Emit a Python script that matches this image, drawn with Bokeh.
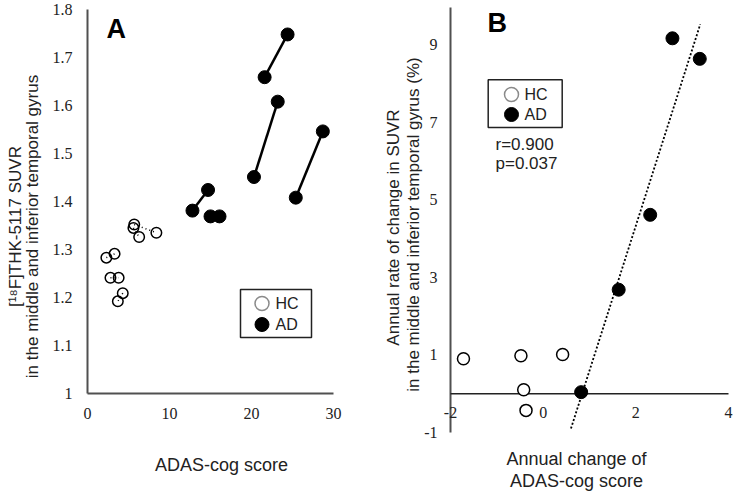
import numpy as np
from bokeh.plotting import figure
from bokeh.layouts import row
from bokeh.models import ColumnDataSource, Label, LabelSet, Range1d
from bokeh.embed import file_html
from bokeh.resources import INLINE

FONT = "Liberation Sans"
TXT = "#222222"
AX = "#505050"

# ---------------- Panel A data ----------------
hc_base_x = [2.3, 2.8, 4.3, 5.7, 5.6]
hc_base_y = [1.283, 1.241, 1.209, 1.352, 1.345]
hc_follow_x = [3.3, 3.8, 3.7, 8.4, 6.3]
hc_follow_y = [1.291, 1.241, 1.192, 1.335, 1.326]
ad_base_x = [21.6, 20.3, 25.4, 12.8, 15.0]
ad_base_y = [1.659, 1.451, 1.408, 1.381, 1.369]
ad_follow_x = [24.4, 23.2, 28.7, 14.7, 16.1]
ad_follow_y = [1.748, 1.608, 1.546, 1.424, 1.369]
a_xticks = [0, 10, 20, 30]
a_xtick_labels = ["0", "10", "20", "30"]
a_yticks = [1.0, 1.1, 1.2, 1.3, 1.4, 1.5, 1.6, 1.7, 1.8]
a_ytick_labels = ["1", "1.1", "1.2", "1.3", "1.4", "1.5", "1.6", "1.7", "1.8"]
a_ylabel = ["[\u00b9\u2078F]THK-5117 SUVR", "in the middle and inferior temporal gyrus"]
a_xlabel = "ADAS-cog score"

# ---------------- Panel B data ----------------
hc_dadas = [-1.72, -0.48, 0.42, -0.42, -0.37]
hc_rate = [0.90, 0.98, 1.01, 0.10, -0.43]
ad_dadas = [0.82, 1.63, 2.31, 2.79, 3.38]
ad_rate = [0.04, 2.68, 4.61, 9.16, 8.63]
fit_x_extent = [0.60, 3.39]
b_xticks = [-2, 0, 2, 4]
b_xtick_labels = ["-2", "0", "2", "4"]
b_yticks = [-1, 1, 3, 5, 7, 9]
b_ytick_labels = ["-1", "1", "3", "5", "7", "9"]
b_ylabel = ["Annual rate of change in SUVR", "in the middle and inferior temporal gyrus (%)"]
b_xlabel = ["Annual change of", "ADAS-cog score"]
r_text = "r=0.900"
p_text = "p=0.037"
legend_labels = ["HC", "AD"]

H = 492
TOP = 0  # page y of figure top (Bokeh's page has no body margin)


class Mapper:
    """page-pixel -> data conversion for placing annotations"""
    def __init__(self, v0, p0, v1, p1, q0, r0, q1, r1):
        self.sx = (p1 - p0) / (v1 - v0)
        self.v0, self.p0 = v0, p0
        self.sy = (r0 - r1) / (q1 - q0)
        self.q0, self.r0 = q0, r0

    def x(self, px):
        return self.v0 + (px - self.p0) / self.sx

    def y(self, py):
        return self.q0 + (self.r0 - py) / self.sy


def new_fig(width, left_px, mp):
    f = figure(width=width, height=H,
               x_range=Range1d(mp.x(left_px), mp.x(left_px + width)),
               y_range=Range1d(mp.y(TOP + H), mp.y(TOP)),
               output_backend="svg", toolbar_location=None,
               x_axis_location=None, y_axis_location=None,
               min_border=0, min_border_left=0, min_border_right=0,
               min_border_top=0, min_border_bottom=0)
    f.grid.visible = False
    f.outline_line_color = None
    return f


def text(fig, x, y, s, size="16px", align="left", angle=0.0, bold=False, color=TXT):
    fig.add_layout(Label(x=x, y=y, text=s, text_font=FONT, text_font_size=size,
                         text_color=color, text_align=align, text_baseline="middle",
                         angle=angle, text_font_style="bold" if bold else "normal"))


def legend(fig, mp, box, y_rows, glyph_x, text_x):
    l, r, t, b = box
    fig.quad(left=[mp.x(l)], right=[mp.x(r)], top=[mp.y(t)], bottom=[mp.y(b)],
             fill_color="white", line_color="#222222", line_width=1.5)
    fig.scatter([mp.x(glyph_x)], [mp.y(y_rows[0])], marker="circle", size=14,
                fill_color="white", line_color="#8a8a8a", line_width=1.5)
    fig.scatter([mp.x(glyph_x)], [mp.y(y_rows[1])], marker="circle", size=14,
                fill_color="black", line_color="black")
    for lab, yy in zip(legend_labels, y_rows):
        text(fig, mp.x(text_x), mp.y(yy), lab)


# ================= Panel A =================
ma = Mapper(0, 87, 30, 333, 1.0, 393, 1.8, 9)
pa = new_fig(374, 0, ma)

x0a, y0a = a_xticks[0], a_yticks[0]
pa.segment(x0=[x0a], y0=[y0a], x1=[x0a], y1=[a_yticks[-1]], line_color=AX, line_width=2)
pa.segment(x0=[x0a], y0=[y0a], x1=[a_xticks[-1]], y1=[y0a], line_color=AX, line_width=2)

pa.add_layout(LabelSet(x="x", y="y", text="t", y_offset=-20,
                       source=ColumnDataSource(dict(x=a_xticks, y=[y0a] * len(a_xticks),
                                                    t=a_xtick_labels)),
                       text_font=FONT, text_font_size="16px", text_color=TXT,
                       text_align="center", text_baseline="middle"))
pa.add_layout(LabelSet(x="x", y="y", text="t", x_offset=-15,
                       source=ColumnDataSource(dict(x=[x0a] * len(a_yticks), y=a_yticks,
                                                    t=a_ytick_labels)),
                       text_font=FONT, text_font_size="16px", text_color=TXT,
                       text_align="right", text_baseline="middle"))

hc_src = ColumnDataSource(dict(x0=hc_base_x, y0=hc_base_y, x1=hc_follow_x, y1=hc_follow_y))
ad_src = ColumnDataSource(dict(x0=ad_base_x, y0=ad_base_y, x1=ad_follow_x, y1=ad_follow_y))
pa.segment(x0="x0", y0="y0", x1="x1", y1="y1", source=hc_src, line_color="black",
           line_width=1.5, line_dash="1 3")
pa.segment(x0="x0", y0="y0", x1="x1", y1="y1", source=ad_src, line_color="black",
           line_width=2.5)
for xs, ys in (("x0", "y0"), ("x1", "y1")):
    pa.scatter(x=xs, y=ys, source=hc_src, marker="circle", size=10.5, fill_alpha=0,
               line_color="black", line_width=1.5)
    pa.scatter(x=xs, y=ys, source=ad_src, marker="circle", size=13, fill_color="black",
               line_color="black")

legend(pa, ma, (240, 311, 289, 337), (303, 324), 261.5, 275)

text(pa, ma.x(15), ma.y(226), a_ylabel[0], size="17px", align="center", angle=np.pi / 2)
text(pa, ma.x(32), ma.y(226), a_ylabel[1], size="17px", align="center", angle=np.pi / 2)
text(pa, ma.x(221), ma.y(464), a_xlabel, size="18px", align="center")
text(pa, ma.x(106), ma.y(28), "A", size="27px", bold=True, color="black")

# ================= Panel B =================
mb = Mapper(-2, 450, 4, 728, -1, 432, 9, 44)
pb = new_fig(362, 374, mb)

x0b = b_xticks[0]
pb.segment(x0=[x0b], y0=[b_yticks[0]], x1=[x0b], y1=[mb.y(7)], line_color=AX, line_width=2)
pb.segment(x0=[x0b], y0=[0], x1=[b_xticks[-1]], y1=[0], line_color="#222222", line_width=1.5)

pb.add_layout(LabelSet(x="x", y="y", text="t", y_offset=-19,
                       source=ColumnDataSource(dict(x=b_xticks, y=[0] * len(b_xticks),
                                                    t=b_xtick_labels)),
                       text_font=FONT, text_font_size="16px", text_color=TXT,
                       text_align="center", text_baseline="middle"))
pb.add_layout(LabelSet(x="x", y="y", text="t", x_offset=-13,
                       source=ColumnDataSource(dict(x=[x0b] * len(b_yticks), y=b_yticks,
                                                    t=b_ytick_labels)),
                       text_font=FONT, text_font_size="16px", text_color=TXT,
                       text_align="right", text_baseline="middle"))

coef = np.polyfit(ad_dadas, ad_rate, 1)
fx = np.array(fit_x_extent)
pb.line(fx, np.polyval(coef, fx), line_color="black", line_width=1.8, line_dash="2 2")

pb.scatter(hc_dadas, hc_rate, marker="circle", size=12, fill_color="white",
           line_color="black", line_width=1.5)
pb.scatter(ad_dadas, ad_rate, marker="circle", size=13, fill_color="black",
           line_color="black")

legend(pb, mb, (487.7, 561.7, 79.3, 127), (94, 114), 511, 524)

text(pb, mb.x(393), mb.y(227), b_ylabel[0], size="17px", align="center", angle=np.pi / 2)
text(pb, mb.x(413), mb.y(224), b_ylabel[1], size="17px", align="center", angle=np.pi / 2)
text(pb, mb.x(576), mb.y(458), b_xlabel[0], size="18px", align="center")
text(pb, mb.x(576), mb.y(480), b_xlabel[1], size="18px", align="center")
text(pb, mb.x(495), mb.y(144), r_text, size="17px")
text(pb, mb.x(495), mb.y(163), p_text, size="17px")
text(pb, mb.x(487), mb.y(22), "B", size="27px", bold=True, color="black")

layout = row(pa, pb, spacing=0)
open("out.html", "w").write(file_html(layout, INLINE))
